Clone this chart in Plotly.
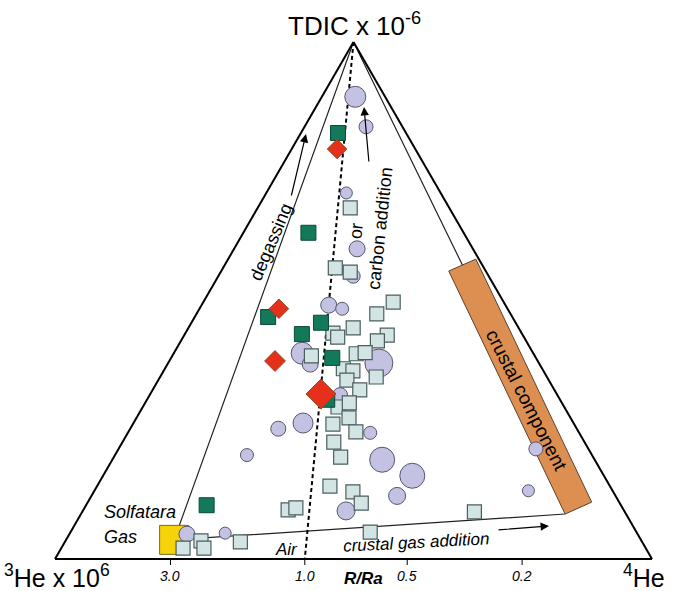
import plotly.graph_objects as go

# Air 3He/4He ratio with 3He scaled by 10^6 (R/Ra = 1)
RA = 1.39

# R/Ra tick values along the 3He-4He base
rra_ticks = [3.0, 1.0, 0.5, 0.2]
rra_labels = ["3.0", "1.0", "0.5", "0.2"]

# Fumarole / groundwater samples: TDIC and 4He fractions (3He is the remainder)
circ_tdic = [0.894, 0.836, 0.708, 0.600, 0.547, 0.491, 0.484, 0.398, 0.377, 0.379,
             0.317, 0.263, 0.252, 0.244, 0.201, 0.192, 0.161, 0.122, 0.093, 0.213,
             0.132, 0.048, 0.050]
circ_he4 = [0.056, 0.103, 0.134, 0.206, 0.226, 0.213, 0.239, 0.215, 0.239, 0.353,
            0.319, 0.284, 0.248, 0.406, 0.221, 0.452, 0.518, 0.512, 0.441, 0.699,
            0.727, 0.197, 0.260]
circ_diam = [21, 14, 12, 16, 14, 16, 13, 22, 16, 28,
             15, 20, 15, 13, 13, 25, 25, 17, 18, 14,
             12, 16, 12]

sq_tdic = [0.679, 0.563, 0.555, 0.497, 0.474, 0.447, 0.437, 0.429, 0.433, 0.422,
           0.393, 0.397, 0.399, 0.368, 0.364, 0.352, 0.346, 0.327, 0.294, 0.302,
           0.273, 0.261, 0.246, 0.226, 0.197, 0.141, 0.130, 0.108, 0.095, 0.099,
           0.052, 0.091, 0.021, 0.035, 0.021, 0.033]
sq_he4 = [0.155, 0.188, 0.217, 0.318, 0.302, 0.276, 0.247, 0.259, 0.340, 0.329,
          0.233, 0.306, 0.320, 0.299, 0.317, 0.362, 0.316, 0.347, 0.327, 0.342,
          0.356, 0.335, 0.381, 0.354, 0.380, 0.390, 0.434, 0.459, 0.343, 0.354,
          0.502, 0.657, 0.204, 0.227, 0.239, 0.294]

green_tdic = [0.824, 0.631, 0.468, 0.435, 0.457, 0.389, 0.308, 0.104]
green_he4 = [0.062, 0.109, 0.123, 0.196, 0.217, 0.270, 0.302, 0.202]

red_tdic = [0.793, 0.484, 0.383, 0.319]
red_he4 = [0.076, 0.133, 0.177, 0.286]
red_size = [15, 15, 16, 23]

solf_tdic = [0.037]
solf_he4 = [0.181]

# Mixing envelope: crustal end -> apex -> Solfatara -> crustal end
env_tdic = [0.520, 1.0, 0.037, 0.087]
env_he4 = [0.443, 0.0, 0.181, 0.811]

# Crustal component field
crust_tdic = [0.557, 0.580, 0.110, 0.087, 0.557]
crust_he4 = [0.381, 0.415, 0.844, 0.811, 0.381]

# Air line: R/Ra = 1 from the TDIC apex to the base
air_base_he4 = 1.0 / (1.0 + RA * 1.0)
air_tdic = [1.0, 0.0]
air_he4 = [0.0, air_base_he4]

W, H = 674, 591
X_LEFT, X_RIGHT, Y_BASE, Y_APEX = 55, 652, 559, 42
FONT = "Liberation Sans, Arial, sans-serif"


def fx(p):
    return p / W


def fy(p):
    return 1 - p / H


fig = go.Figure()

fig.add_trace(go.Scatterternary(
    a=env_tdic, c=env_he4, mode="lines",
    line=dict(color="#222222", width=1.2), hoverinfo="skip"))

fig.add_trace(go.Scatterternary(
    a=crust_tdic, c=crust_he4, mode="lines", fill="toself",
    fillcolor="#DC8F50", line=dict(color="#5a4030", width=1), hoverinfo="skip"))

fig.add_trace(go.Scatterternary(
    a=air_tdic, c=air_he4, mode="lines",
    line=dict(color="black", width=2, dash="4px,3px"), hoverinfo="skip"))

fig.add_trace(go.Scatterternary(
    a=solf_tdic, c=solf_he4, mode="markers",
    marker=dict(symbol="square", size=29, color="#F6D20A", opacity=1,
                line=dict(color="#7a6a20", width=1))))

fig.add_trace(go.Scatterternary(
    a=circ_tdic, c=circ_he4, mode="markers",
    marker=dict(symbol="circle", size=circ_diam, color="#C3C2E3", opacity=1,
                line=dict(color="#55556e", width=1))))

fig.add_trace(go.Scatterternary(
    a=sq_tdic, c=sq_he4, mode="markers",
    marker=dict(symbol="square", size=14, color="#D2E4E3", opacity=1,
                line=dict(color="#4a5e5e", width=1.2))))

fig.add_trace(go.Scatterternary(
    a=green_tdic, c=green_he4, mode="markers",
    marker=dict(symbol="square", size=15, color="#13795A", opacity=1,
                line=dict(color="#0b4a37", width=1))))

fig.add_trace(go.Scatterternary(
    a=red_tdic, c=red_he4, mode="markers",
    marker=dict(symbol="diamond", size=red_size, color="#E5301C", opacity=1,
                line=dict(color="#8a4a1e", width=1))))

axis_style = dict(showline=True, linecolor="black", linewidth=2, showgrid=False,
                  showticklabels=False, ticks="", title=dict(text=""))

annotations = []


def label(text, x, y, size, angle=0, xanchor="center", yanchor="middle"):
    annotations.append(dict(
        text=text, x=fx(x), y=fy(y), xref="paper", yref="paper",
        showarrow=False, textangle=angle, xanchor=xanchor, yanchor=yanchor,
        font=dict(family=FONT, size=size, color="black")))


def arrow(tip, tail):
    annotations.append(dict(
        text="", x=fx(tip[0]), y=fy(tip[1]), xref="paper", yref="paper",
        ax=tail[0] - tip[0], ay=tail[1] - tip[1], showarrow=True,
        arrowhead=2, arrowsize=1.4, arrowwidth=1.2, arrowcolor="black"))


label("TDIC x 10<sup>-6</sup>", 354, 24, 26)
label("<sup>3</sup>He x 10<sup>6</sup>", 2, 576, 25, xanchor="left")
label("<sup>4</sup>He", 621, 576, 25, xanchor="left")

shapes = []
for r, t in zip(rra_ticks, rra_labels):
    c = 1.0 / (1.0 + RA * r)
    xp = X_LEFT + c * (X_RIGHT - X_LEFT)
    shapes.append(dict(type="line", xref="paper", yref="paper",
                       x0=fx(xp), x1=fx(xp), y0=fy(Y_BASE), y1=fy(Y_BASE + 6),
                       line=dict(color="black", width=1)))
    label("<i>" + t + "</i>", xp, 576, 14)

label("<b><i>R/Ra</i></b>", 363, 578, 17)
label("<i>Air</i>", 286, 549, 17)
label("<i>Solfatara</i>", 102, 512, 18, xanchor="left")
label("<i>Gas</i>", 102, 537, 18, xanchor="left")
label("<i>crustal gas addition</i>", 416, 542, 17, angle=-3)
label("degassing", 271, 242, 18, angle=-67)
label("or", 356, 231, 18, angle=-84)
label("carbon addition", 380, 229, 18, angle=-84)
label("crustal component", 527, 400, 19, angle=63)

arrow((306, 134), (291, 197))
arrow((364, 107), (369, 163))
arrow((549, 526), (497, 530))

fig.update_layout(
    width=W, height=H,
    margin=dict(l=0, r=0, t=0, b=0),
    paper_bgcolor="white",
    showlegend=False,
    ternary=dict(
        sum=1,
        bgcolor="white",
        domain=dict(x=[fx(X_LEFT), fx(X_RIGHT)], y=[fy(Y_BASE), fy(Y_APEX)]),
        aaxis=axis_style, baxis=axis_style, caxis=axis_style,
    ),
    annotations=annotations,
    shapes=shapes,
)

fig.write_html("out.html")
